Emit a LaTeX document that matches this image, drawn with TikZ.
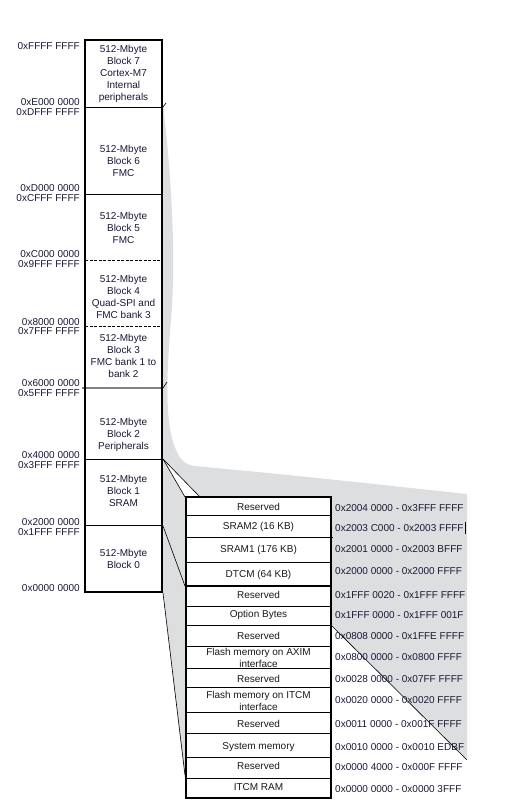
\documentclass[tikz,border=0pt]{standalone}
\usepackage{fontspec}
\setmainfont{Liberation Sans}
\usetikzlibrary{calc}

\definecolor{addrnavy}{RGB}{24,24,56}
\definecolor{zoomgray}{RGB}{221,222,224}

\begin{document}
\begin{tikzpicture}[
  x=1pt, y=-1pt,
  font=\fontsize{10}{12}\selectfont,
  addr/.style={anchor=east, text=addrnavy, inner sep=0pt},
  raddr/.style={anchor=west, text=addrnavy, inner sep=0pt},
  blk/.style={align=center, text=addrnavy, inner sep=0pt},
  row/.style={align=center, inner sep=0pt, text=black!90},
  sepline/.style={line width=0.8pt},
  frame/.style={line width=2pt},
]
\useasboundingbox (0,0) rectangle (512,806);

% ================= ZOOM AREA (gray) =================
\fill[zoomgray] (163,104) .. controls (172,180) and (176,260) .. (171,320)
  .. controls (166,380) and (165,425) .. (176,450)
  .. controls (181,462) and (187,465) .. (195,466)
  .. controls (300,476) .. (467,494) -- (467,760) -- (331,625)
  -- (331,780) -- (185,780) -- (163,593) -- cycle;

% ================= CORNERS =================
\coordinate (b1top)   at (163,459);
\coordinate (b1bot)   at (163,526);
\coordinate (b0bot)   at (163,593);
\coordinate (boxtl)   at (185,497);
\coordinate (boxtl2)  at (200,497);
\coordinate (dtcmbl)  at (185,586);
\coordinate (itcmtl)  at (185,775);
\coordinate (diagtop) at (331,625);
\coordinate (diagbot) at (467,760);

\fill[white] (b1top) -- (boxtl) -- (boxtl2) -- cycle;

% ================= LEFT COLUMN =================
\fill[white] (85,40) rectangle (162,592);
\draw[sepline] (85,107) -- (162,107);
\draw[sepline] (85,194) -- (162,194);
\draw[sepline, dash pattern=on 3pt off 1.5pt] (85,260) -- (162,260);
\draw[sepline, dash pattern=on 3pt off 1.5pt] (85,326) -- (162,326);
\draw[line width=1.5pt, gray] (82,388) -- (162,388);
\draw[sepline] (85,459) -- (162,459);
\draw[sepline] (85,525) -- (162,525);
\draw[frame] (85,40) rectangle (162,592);
\draw[line width=0.6pt] (163,107) -- (166,103);
\draw[line width=0.6pt] (163,388) -- (167,382);

\node[blk] (blk7) at (123.5,74)  {512-Mbyte\\Block 7\\Cortex-M7\\Internal\\peripherals};
\node[blk] (blk6) at (123.5,161) {512-Mbyte\\Block 6\\FMC};
\node[blk] (blk5) at (123.5,228) {512-Mbyte\\Block 5\\FMC};
\node[blk] (blk4) at (123.5,297) {512-Mbyte\\Block 4\\Quad-SPI and\\FMC bank 3};
\node[blk] (blk3) at (123.5,356) {512-Mbyte\\Block 3\\FMC bank 1 to\\bank 2};
\node[blk] (blk2) at (123.5,435) {512-Mbyte\\Block 2\\Peripherals};
\node[blk] (blk1) at (123.5,491) {512-Mbyte\\Block 1\\SRAM};
\node[blk] (blk0) at (123.5,559) {512-Mbyte\\Block 0};

% left addresses
\node[addr] (aFFFF) at (80,46)  {0xFFFF FFFF};
\node[addr] (aE000) at (80,102) {0xE000 0000};
\node[addr] (aDFFF) at (80,112) {0xDFFF FFFF};
\node[addr] (aD000) at (80,188) {0xD000 0000};
\node[addr] (aCFFF) at (80,198) {0xCFFF FFFF};
\node[addr] (aC000) at (80,254) {0xC000 0000};
\node[addr] (a9FFF) at (80,264) {0x9FFF FFFF};
\node[addr] (a8000) at (80,322) {0x8000 0000};
\node[addr] (a7FFF) at (80,331) {0x7FFF FFFF};
\node[addr] (a6000) at (80,383) {0x6000 0000};
\node[addr] (a5FFF) at (80,393) {0x5FFF FFFF};
\node[addr] (a4000) at (80,455) {0x4000 0000};
\node[addr] (a3FFF) at (80,465) {0x3FFF FFFF};
\node[addr] (a2000) at (80,522) {0x2000 0000};
\node[addr] (a1FFF) at (80,532) {0x1FFF FFFF};
\node[addr] (a0000) at (80,588) {0x0000 0000};

% ================= ZOOM LINES =================
\draw[line width=0.6pt] (b1top) -- (boxtl);
\draw[line width=0.6pt] (b1top) -- (boxtl2);
\draw[line width=0.6pt] (b1bot) -- (dtcmbl);
\draw[line width=0.6pt] (b0bot) -- (itcmtl);
\draw[line width=0.6pt] (diagtop) -- (diagbot);

% ================= RIGHT BOX =================
\fill[white] (186,497) rectangle (331,798);
\draw[sepline] (186,515) -- (331,515);
\draw[sepline] (186,537) -- (333,537);
\draw[sepline] (186,562) -- (331,562);
\draw[line width=1.6pt] (186,586) -- (331,586);
\draw[sepline] (186,606) -- (331,606);
\draw[sepline] (186,625) -- (331,625);
\draw[sepline] (186,646) -- (331,646);
\draw[sepline] (186,668) -- (331,668);
\draw[sepline] (186,687) -- (331,687);
\draw[sepline] (186,712) -- (331,712);
\draw[sepline] (186,733) -- (331,733);
\draw[sepline] (186,757) -- (331,757);
\draw[sepline] (186,778) -- (331,778);
\draw[frame] (186,497) rectangle (331,798);

\node[row] (rres1)  at (258.5,507) {Reserved};
\node[row] (rsram2) at (258.5,527) {SRAM2 (16 KB)};
\node[row] (rsram1) at (258.5,550) {SRAM1 (176 KB)};
\node[row] (rdtcm)  at (258.5,575) {DTCM (64 KB)};
\node[row] (rres2)  at (258.5,595) {Reserved};
\node[row] (ropt)   at (258.5,615) {Option Bytes};
\node[row] (rres3)  at (258.5,636) {Reserved};
\node[row] (raxim)  at (258.5,658) {Flash memory on AXIM\\interface};
\node[row] (rres4)  at (258.5,679) {Reserved};
\node[row] (ritcmf) at (258.5,701) {Flash memory on ITCM\\interface};
\node[row] (rres5)  at (258.5,724) {Reserved};
\node[row] (rsys)   at (258.5,747) {System memory};
\node[row] (rres6)  at (258.5,766) {Reserved};
\node[row] (ritcm)  at (258.5,787) {ITCM RAM};

% right addresses
\node[raddr] (xres1)  at (335,508) {0x2004 0000 - 0x3FFF FFFF};
\node[raddr] (xsram2) at (335,528) {0x2003 C000 - 0x2003 FFFF};
\node[raddr] (xsram1) at (335,549) {0x2001 0000 - 0x2003 BFFF};
\node[raddr] (xdtcm)  at (335,571) {0x2000 0000 - 0x2000 FFFF};
\node[raddr] (xres2)  at (335,595) {0x1FFF 0020 - 0x1FFF FFFF};
\node[raddr] (xopt)   at (335,615) {0x1FFF 0000 - 0x1FFF 001F};
\node[raddr] (xres3)  at (335,636) {0x0808 0000 - 0x1FFE FFFF};
\node[raddr] (xaxim)  at (335,657) {0x0800 0000 - 0x0800 FFFF};
\node[raddr] (xres4)  at (335,679) {0x0028 0000 - 0x07FF FFFF};
\node[raddr] (xitcmf) at (335,700) {0x0020 0000 - 0x0020 FFFF};
\node[raddr] (xres5)  at (335,724) {0x0011 0000 - 0x001F FFFF};
\node[raddr] (xsys)   at (335,747) {0x0010 0000 - 0x0010 EDBF};
\node[raddr] (xres6)  at (335,767) {0x0000 4000 - 0x000F FFFF};
\node[raddr] (xitcm)  at (335,789) {0x0000 0000 - 0x0000 3FFF};
\draw[line width=0.6pt] ($(xsram2.east)+(1.5,-6)$) -- ($(xsram2.east)+(1.5,6)$);

\end{tikzpicture}
\end{document}
